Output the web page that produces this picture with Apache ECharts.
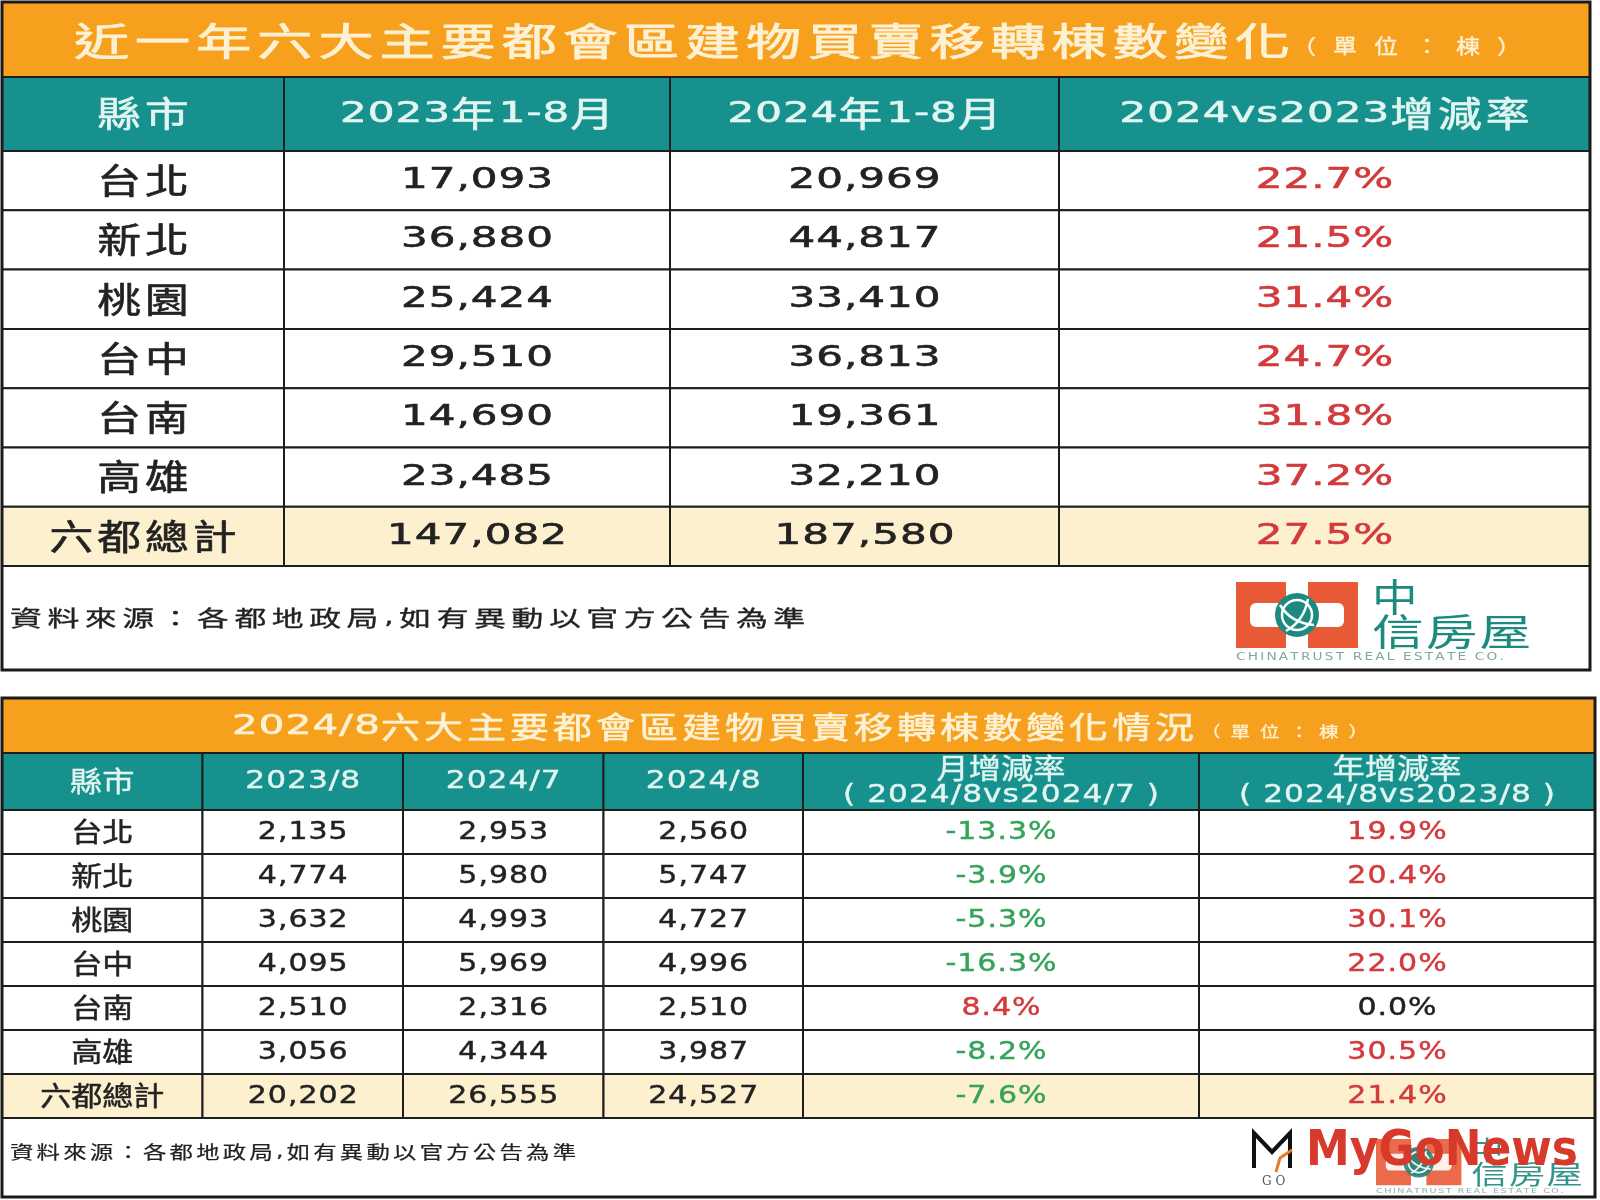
<!DOCTYPE html>
<html><head><meta charset="utf-8">
<script src="https://cdn.jsdelivr.net/npm/echarts@6/dist/echarts.min.js"></script>
<style>html,body{margin:0;padding:0;background:#fff}#c{width:1600px;height:1200px}</style>
</head><body><div id="c"></div>
<script>
// ---------------- data ----------------
const CITIES = ['台北','新北','桃園','台中','台南','高雄','六都總計'];
const T1_TITLE = '近一年六大主要都會區建物買賣移轉棟數變化';
const T1_UNIT = '（單位：棟）';
const T1_HEADERS = ['縣市','2023年1-8月','2024年1-8月','2024vs2023增減率'];
const T1_2023 = [17093, 36880, 25424, 29510, 14690, 23485, 147082];
const T1_2024 = [20969, 44817, 33410, 36813, 19361, 32210, 187580];
const T1_RATE = [22.7, 21.5, 31.4, 24.7, 31.8, 37.2, 27.5];

const T2_TITLE = '2024/8六大主要都會區建物買賣移轉棟數變化情況';
const T2_UNIT = '（單位：棟）';
const T2_HEADERS = ['縣市','2023/8','2024/7','2024/8','月增減率\n( 2024/8vs2024/7 )','年增減率\n( 2024/8vs2023/8 )'];
const T2_2023_8 = [2135, 4774, 3632, 4095, 2510, 3056, 20202];
const T2_2024_7 = [2953, 5980, 4993, 5969, 2316, 4344, 26555];
const T2_2024_8 = [2560, 5747, 4727, 4996, 2510, 3987, 24527];
const T2_MOM = [-13.3, -3.9, -5.3, -16.3, 8.4, -8.2, -7.6];
const T2_YOY = [19.9, 20.4, 30.1, 22.0, 0.0, 30.5, 21.4];

const SOURCE = '資料來源：各都地政局,如有異動以官方公告為準';

// ---------------- style ----------------
const ORANGE = '#F6A01E', TEAL = '#16918D', TOTAL_BG = '#FDF0CF';
const HEAD_TXT = '#E2F5F1', TITLE_TXT = '#FDF1D4', BODY_TXT = '#222222';
const RED = '#D23A3C', GREEN = '#35A35A', LINE = '#1e1e1e';
const CJK_FONT = "'Noto Sans CJK TC'", LAT_FONT = "'DejaVu Sans'";

const mctx = document.createElement('canvas').getContext('2d');
function isCJK(ch){ return /[\u2E80-\u9FFF\uFF00-\uFFEF\u3000-\u303F]/.test(ch); }
function spacedText(str, x, y, st, fill, align){
  const chars = [...str]; const items = []; let pos = 0;
  chars.forEach((ch, i) => {
    const cjk = isCJK(ch);
    const fs = cjk ? st.sc : st.sl;
    const k = cjk ? st.kC : st.kL;
    const font = (st.w || 'normal') + ' ' + fs + 'px ' + (cjk ? CJK_FONT : LAT_FONT);
    mctx.font = font;
    const w = mctx.measureText(ch).width * k;
    items.push({ch, pos, font, k});
    pos += w;
    if (i < chars.length - 1) pos += cjk ? st.spC : st.spL;
  });
  const x0 = align === 'left' ? x : x - pos / 2;
  return items.map(it => {
    const style = {text: it.ch, font: it.font, fill: fill, align: 'left', verticalAlign: 'middle'};
    if (st.bw) { style.stroke = fill; style.lineWidth = st.bw; }
    return {type: 'text', x: x0 + it.pos, y: y, scaleX: it.k, scaleY: 1, z2: 10, style};
  });
}

const T1_ST = {sl: 29, sc: 35, kL: 1.45, kC: 1.25, spL: 1, spC: 4, bw: 0.6};
const T2_ST = {sl: 25, sc: 27, kL: 1.2, kC: 1.15, spL: 1, spC: 0, bw: 0.45};
const T2_HEAD_ST = {sl: 25, sc: 28, kL: 1.25, kC: 1.15, spL: 1, spC: 0, bw: 0.4};
const TITLE1_ST = {sl: 38, sc: 38, kL: 1.45, kC: 1.45, spL: 6, spC: 6, bw: 0.8};
const UNIT1_ST = {sl: 20, sc: 20, kL: 1.2, kC: 1.2, spL: 17, spC: 17, bw: 0.4};
const TITLE2_ST = {sl: 26, sc: 30, kL: 1.55, kC: 1.3, spL: 1.2, spC: 4, bw: 0.6};
const UNIT2_ST = {sl: 15, sc: 15, kL: 1.3, kC: 1.3, spL: 10, spC: 10, bw: 0.3};
const FOOT1_ST = {sl: 22, sc: 22, kL: 1.4, kC: 1.45, spL: 5.5, spC: 5.5, bw: 0.3};
const FOOT2_ST = {sl: 18, sc: 18, kL: 1.3, kC: 1.3, spL: 3.2, spC: 3.2, bw: 0.2};

// layout (cell edges in axis units = px)
const T1_COLS = [0, 282, 668, 1057, 1588];
const T1_ROWS = [0, 74]; for (let i = 1; i <= 7; i++) T1_ROWS.push(74 + 59.3 * i);
const T2_COLS = [0, 200.5, 401, 601.5, 801, 1197, 1593];
const T2_ROWS = [0, 57]; for (let i = 1; i <= 7; i++) T2_ROWS.push(57 + 44 * i);

const fmt = v => v.toLocaleString('en-US');
const pct = v => v.toFixed(1) + '%';
const rateColor = v => v > 0 ? RED : (v < 0 ? GREEN : BODY_TXT);

// ---------------- cells ----------------
const cells1 = [];
T1_HEADERS.forEach((h, c) => cells1.push({c, r: 0, text: h, bg: TEAL, color: HEAD_TXT, st: T1_ST}));
CITIES.forEach((city, i) => {
  const bg = i === CITIES.length - 1 ? TOTAL_BG : '#ffffff';
  const r = i + 1;
  cells1.push({c: 0, r, text: city, bg, color: BODY_TXT, st: T1_ST});
  cells1.push({c: 1, r, text: fmt(T1_2023[i]), bg, color: BODY_TXT, st: T1_ST});
  cells1.push({c: 2, r, text: fmt(T1_2024[i]), bg, color: BODY_TXT, st: T1_ST});
  cells1.push({c: 3, r, text: pct(T1_RATE[i]), bg, color: rateColor(T1_RATE[i]), st: T1_ST});
});

const cells2 = [];
T2_HEADERS.forEach((h, c) => cells2.push({c, r: 0, text: h, bg: TEAL, color: HEAD_TXT, st: T2_HEAD_ST, lineH: 27}));
CITIES.forEach((city, i) => {
  const bg = i === CITIES.length - 1 ? TOTAL_BG : '#ffffff';
  const r = i + 1;
  cells2.push({c: 0, r, text: city, bg, color: BODY_TXT, st: T2_ST});
  cells2.push({c: 1, r, text: fmt(T2_2023_8[i]), bg, color: BODY_TXT, st: T2_ST});
  cells2.push({c: 2, r, text: fmt(T2_2024_7[i]), bg, color: BODY_TXT, st: T2_ST});
  cells2.push({c: 3, r, text: fmt(T2_2024_8[i]), bg, color: BODY_TXT, st: T2_ST});
  cells2.push({c: 4, r, text: pct(T2_MOM[i]), bg, color: rateColor(T2_MOM[i]), st: T2_ST});
  cells2.push({c: 5, r, text: pct(T2_YOY[i]), bg, color: rateColor(T2_YOY[i]), st: T2_ST});
});

function makeRender(cells, cols, rows){
  return function(params, api){
    const d = cells[params.dataIndex];
    const p0 = api.coord([cols[d.c], rows[d.r]]);
    const p1 = api.coord([cols[d.c + 1], rows[d.r + 1]]);
    const x = p0[0], y = Math.min(p0[1], p1[1]);
    const w = p1[0] - p0[0], h = Math.abs(p1[1] - p0[1]);
    const children = [{type: 'rect', shape: {x, y, width: w, height: h},
      style: {fill: d.bg, stroke: LINE, lineWidth: 2}}];
    const lines = d.text.split('\n');
    lines.forEach((ln, i) => {
      const cy = y + h / 2 + (i - (lines.length - 1) / 2) * (d.lineH || 0);
      children.push(...spacedText(ln, x + w / 2, cy, d.st, d.color));
    });
    return {type: 'group', children};
  };
}

// ---------------- decorations ----------------
function chinatrustLogo(x, y, s, opacity){
  const OR = '#E85A36', TL = '#1C8A7E';
  const ch = [
    {type: 'rect', shape: {x: 0, y: 0, width: 50, height: 66}, style: {fill: OR}},
    {type: 'rect', shape: {x: 72, y: 0, width: 50, height: 66}, style: {fill: OR}},
    {type: 'rect', shape: {x: 45, y: 14, width: 32, height: 38}, style: {fill: OR}},
    {type: 'rect', shape: {x: 14, y: 21, width: 34, height: 24, r: 6}, style: {fill: '#fff'}},
    {type: 'rect', shape: {x: 74, y: 21, width: 34, height: 24, r: 6}, style: {fill: '#fff'}},
    {type: 'circle', shape: {cx: 61, cy: 33, r: 22}, style: {fill: TL}},
    {type: 'circle', shape: {cx: 61, cy: 33, r: 15}, style: {fill: 'none', stroke: '#fff', lineWidth: 2.5}},
    {type: 'bezierCurve', shape: {x1: 44, y1: 23, x2: 78, y2: 43, cpx1: 55, cpy1: 41}, style: {stroke: '#fff', lineWidth: 2.5, fill: 'none'}},
    {type: 'bezierCurve', shape: {x1: 50, y1: 49, x2: 72, y2: 17, cpx1: 68, cpy1: 39}, style: {stroke: '#fff', lineWidth: 2.5, fill: 'none'}},
  ];
  ch.push(...spacedText('中', 136, 15, {sl: 38, sc: 38, kL: 1.2, kC: 1.2, spL: 0, spC: 0}, TL, 'left'));
  ch.push(...spacedText('信房屋', 136, 50, {sl: 37, sc: 37, kL: 1.4, kC: 1.4, spL: 2, spC: 2}, TL, 'left'));
  ch.push(...spacedText('CHINATRUST REAL ESTATE CO.', 0, 75, {sl: 10.5, sc: 10.5, kL: 1.3, kC: 1.3, spL: 2.2, spC: 2}, '#7FA8A2', 'left'));
  ch.forEach(e => { e.style = Object.assign({opacity: opacity}, e.style); });
  return {type: 'group', x, y, scaleX: s, scaleY: s, children: ch};
}

mctx.font = "bold 50px 'DejaVu Sans'";
const mgWidth = mctx.measureText('MyGoNews').width;

const graphics = [
  // top panel
  {type: 'rect', z: 0, shape: {x: 2, y: 2, width: 1588, height: 75}, style: {fill: ORANGE}},
  {type: 'group', z: 5, children: spacedText(T1_TITLE, 74, 41, TITLE1_ST, TITLE_TXT, 'left')},
  {type: 'group', z: 5, children: spacedText(T1_UNIT, 1292, 46, UNIT1_ST, TITLE_TXT, 'left')},
  {type: 'group', z: 5, children: spacedText(SOURCE, 10, 618, FOOT1_ST, '#222', 'left')},
  Object.assign(chinatrustLogo(1236, 582, 1, 1), {z: 5}),
  {type: 'rect', z: 50, shape: {x: 2, y: 2, width: 1588, height: 668}, style: {fill: 'none', stroke: '#1a1a1a', lineWidth: 3}},
  // bottom panel
  {type: 'rect', z: 0, shape: {x: 2, y: 698, width: 1593, height: 56}, style: {fill: ORANGE}},
  {type: 'group', z: 5, children: spacedText(T2_TITLE, 232, 727, TITLE2_ST, TITLE_TXT, 'left')},
  {type: 'group', z: 5, children: spacedText(T2_UNIT, 1201, 731, UNIT2_ST, TITLE_TXT, 'left')},
  {type: 'group', z: 5, children: spacedText(SOURCE, 10, 1152, FOOT2_ST, '#222', 'left')},
  Object.assign(chinatrustLogo(1376, 1139, 0.7, 0.9), {z: 5}),
  {type: 'text', z: 6, x: 1306, y: 1152, scaleX: 272 / mgWidth, scaleY: 1,
    style: {text: 'MyGoNews', font: "bold 50px 'DejaVu Sans'", align: 'left', verticalAlign: 'middle', fill: '#D73A2A'}},
  {type: 'polyline', z: 6, shape: {points: [[1254, 1168], [1254, 1133], [1272, 1152], [1290, 1133], [1290, 1168]]},
    style: {stroke: '#111', lineWidth: 4, fill: 'none'}},
  {type: 'polyline', z: 6, shape: {points: [[1276, 1172], [1280, 1158], [1292, 1150]]},
    style: {stroke: '#E87A2A', lineWidth: 3, fill: 'none'}},
  {type: 'text', z: 6, x: 1262, y: 1182, style: {text: 'G O', font: "12px 'DejaVu Serif'", fill: '#555', align: 'left', verticalAlign: 'middle'}},
  {type: 'rect', z: 50, shape: {x: 2, y: 698, width: 1593, height: 499}, style: {fill: 'none', stroke: '#1a1a1a', lineWidth: 3}},
];

const chart = echarts.init(document.getElementById('c'), null, {renderer: 'canvas'});
chart.setOption({
  animation: false,
  backgroundColor: '#ffffff',
  grid: [
    {left: 2, top: 77, width: T1_COLS[T1_COLS.length - 1], height: T1_ROWS[T1_ROWS.length - 1]},
    {left: 2, top: 753, width: T2_COLS[T2_COLS.length - 1], height: T2_ROWS[T2_ROWS.length - 1]}
  ],
  xAxis: [
    {type: 'value', gridIndex: 0, min: 0, max: T1_COLS[T1_COLS.length - 1], show: false},
    {type: 'value', gridIndex: 1, min: 0, max: T2_COLS[T2_COLS.length - 1], show: false}
  ],
  yAxis: [
    {type: 'value', gridIndex: 0, min: 0, max: T1_ROWS[T1_ROWS.length - 1], inverse: true, show: false},
    {type: 'value', gridIndex: 1, min: 0, max: T2_ROWS[T2_ROWS.length - 1], inverse: true, show: false}
  ],
  graphic: {elements: graphics},
  series: [
    {type: 'custom', coordinateSystem: 'cartesian2d', xAxisIndex: 0, yAxisIndex: 0, silent: true, z: 3,
      data: cells1.map(d => [d.c, d.r]), renderItem: makeRender(cells1, T1_COLS, T1_ROWS)},
    {type: 'custom', coordinateSystem: 'cartesian2d', xAxisIndex: 1, yAxisIndex: 1, silent: true, z: 3,
      data: cells2.map(d => [d.c, d.r]), renderItem: makeRender(cells2, T2_COLS, T2_ROWS)}
  ]
});
</script>
</body></html>
